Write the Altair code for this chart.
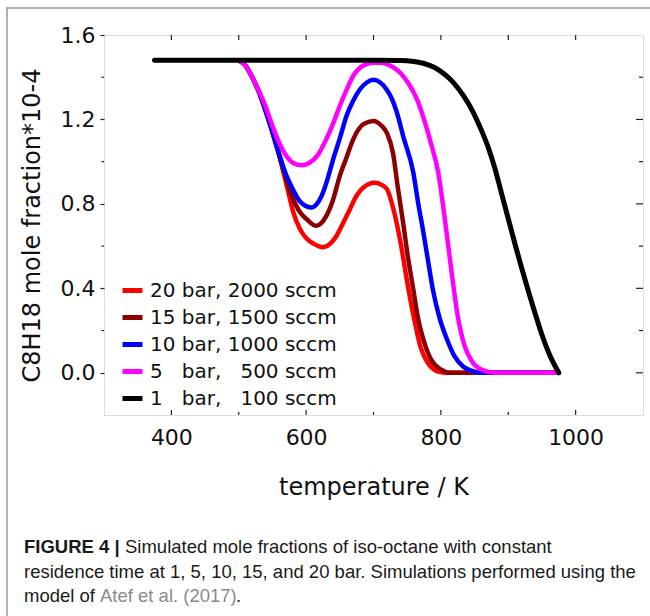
import altair as alt
import pandas as pd

# ---------------- data ----------------
series_names = [
    "20 bar, 2000 sccm",
    "15 bar, 1500 sccm",
    "10 bar, 1000 sccm",
    "5\u00a0\u00a0\u00a0bar,\u00a0\u00a0\u00a0500 sccm",
    "1\u00a0\u00a0\u00a0bar,\u00a0\u00a0\u00a0100 sccm",
]
series_colors = ["#ff0000", "#8b0000", "#0000ff", "#ff00ff", "#000000"]

red_T = [500, 510, 520, 530, 540, 550, 560, 571, 581, 591, 601, 611, 625, 637, 645, 655, 665, 675, 685, 702, 712, 720, 730, 740, 750, 760, 770, 780, 790, 800, 815, 975]
red_v = [1.48, 1.455, 1.40, 1.33, 1.24, 1.14, 1.03, 0.89, 0.76, 0.68, 0.635, 0.612, 0.595, 0.615, 0.648, 0.71, 0.775, 0.84, 0.878, 0.90, 0.89, 0.87, 0.77, 0.62, 0.43, 0.26, 0.12, 0.05, 0.015, 0.003, 0.0, 0.0]

dred_T = [500, 510, 520, 530, 540, 550, 560, 570, 581, 591, 601, 615, 630, 640, 650, 660, 670, 685, 700, 712, 720, 729, 736, 744, 751, 759, 766, 774, 785, 799, 815, 975]
dred_v = [1.48, 1.455, 1.40, 1.33, 1.24, 1.14, 1.03, 0.92, 0.822, 0.76, 0.727, 0.696, 0.743, 0.82, 0.933, 1.02, 1.107, 1.178, 1.193, 1.17, 1.135, 1.04, 0.88, 0.71, 0.55, 0.396, 0.26, 0.158, 0.065, 0.017, 0.0, 0.0]

blue_T = [500, 510, 520, 530, 540, 550, 560, 570, 581, 590, 598, 608, 616, 623, 632, 640, 650, 660, 670, 680, 690, 700, 710, 720, 727, 734, 745, 759, 766, 774, 781, 788, 798, 809, 820, 833, 845, 860, 975]
blue_v = [1.48, 1.455, 1.40, 1.33, 1.24, 1.14, 1.035, 0.94, 0.865, 0.815, 0.792, 0.783, 0.80, 0.838, 0.92, 1.01, 1.11, 1.217, 1.29, 1.343, 1.375, 1.388, 1.375, 1.34, 1.30, 1.24, 1.11, 0.95, 0.81, 0.666, 0.53, 0.396, 0.26, 0.159, 0.08, 0.03, 0.01, 0.0, 0.0]

mag_T = [500, 510, 520, 530, 540, 550, 560, 570, 580, 593, 605, 617, 630, 640, 650, 660, 670, 680, 690, 700, 710, 720, 730, 740, 752, 764, 775, 785, 796, 805, 815, 825, 835, 845, 860, 880, 975]
mag_v = [1.48, 1.455, 1.40, 1.335, 1.26, 1.17, 1.09, 1.03, 0.995, 0.983, 0.995, 1.03, 1.107, 1.18, 1.264, 1.34, 1.407, 1.445, 1.462, 1.468, 1.468, 1.462, 1.445, 1.42, 1.37, 1.30, 1.20, 1.09, 0.95, 0.75, 0.50, 0.27, 0.13, 0.06, 0.015, 0.0, 0.0]

black_T = [375, 500, 600, 700, 740, 760, 775, 790, 805, 818, 834, 848, 860, 870, 880, 890, 900, 910, 920, 930, 940, 950, 960, 975]
black_v = [1.48, 1.48, 1.48, 1.48, 1.479, 1.474, 1.465, 1.447, 1.415, 1.377, 1.31, 1.234, 1.15, 1.07, 0.97, 0.85, 0.73, 0.61, 0.495, 0.385, 0.28, 0.18, 0.095, 0.0]

x_major_ticks = [400, 600, 800, 1000]
x_minor_ticks = [500, 700, 900]
y_major_ticks = [0.0, 0.4, 0.8, 1.2, 1.6]
y_minor_ticks = [0.2, 0.6, 1.0, 1.4]

x_title = "temperature / K"
y_title = "C8H18 mole fraction*10-4"
caption_bold = "FIGURE 4 |"
caption_line1 = "Simulated mole fractions of iso-octane with constant"
caption_line2 = "residence time at 1, 5, 10, 15, and 20 bar. Simulations performed using the"
caption_line3a = "model of"
caption_ref = "Atef et al. (2017)"
caption_end = "."

# ---------------- build table ----------------
rows = []
for name, Ts, vs in zip(series_names,
                        [red_T, dred_T, blue_T, mag_T, black_T],
                        [red_v, dred_v, blue_v, mag_v, black_v]):
    for t, v in zip(Ts, vs):
        rows.append({"series": name, "T": t, "v": v})
df = pd.DataFrame(rows)

W, H = 539, 380
FONT = "DejaVu Sans"
CAP_FONT = "Liberation Sans"
CAP_SIZE = 18.5

xscale = alt.Scale(domain=[300, 1100], nice=False, zero=False)
yscale = alt.Scale(domain=[-0.2, 1.6], nice=False, zero=False)
cscale = alt.Scale(domain=series_names, range=series_colors)

xaxis = alt.Axis(values=x_major_ticks, format="d", ticks=False, domain=False, grid=False,
                 labelFont=FONT, labelFontSize=22, labelColor="#111", labelPadding=12,
                 title=x_title, titleFont=FONT, titleFontSize=24, titleFontWeight="normal",
                 titleColor="#111", titlePadding=27)
yaxis = alt.Axis(values=y_major_ticks, format=".1f", tickSize=4, tickColor="#222", tickWidth=1.2,
                 domain=False, grid=False,
                 labelFont=FONT, labelFontSize=22, labelColor="#111", labelPadding=5,
                 title=y_title, titleFont=FONT, titleFontSize=24, titleFontWeight="normal",
                 titleColor="#111", titlePadding=16)

legend = alt.Legend(title=None, orient="none", legendX=16, legendY=243,
                    symbolType="stroke", symbolStrokeWidth=5, symbolSize=400,
                    labelFont=FONT, labelFontSize=20, labelColor="#111", labelOffset=5,
                    rowPadding=4, padding=0, labelLimit=400)

layers = []
for i, name in enumerate(series_names):
    sub = df[df["series"] == name]
    layers.append(
        alt.Chart(sub).mark_line(strokeWidth=5 if i == 4 else 4.5, interpolate="monotone",
                                 strokeCap="round", strokeJoin="round").encode(
            x=alt.X("T:Q", scale=xscale, axis=xaxis),
            y=alt.Y("v:Q", scale=yscale, axis=yaxis),
            color=alt.Color("series:N", scale=cscale, legend=legend, sort=series_names),
        )
    )

tick_color = "#222"

def xticks(values, y0, y1):
    return alt.Chart(pd.DataFrame({"T": values})).mark_rule(color=tick_color, strokeWidth=1.2).encode(
        x=alt.X("T:Q", scale=xscale, axis=xaxis), y=alt.value(y0), y2=alt.value(y1))

def yticks(values, x0, x1):
    return alt.Chart(pd.DataFrame({"v": values})).mark_rule(color=tick_color, strokeWidth=1.2).encode(
        y=alt.Y("v:Q", scale=yscale, axis=yaxis), x=alt.value(x0), x2=alt.value(x1))

tick_layers = [
    xticks(x_major_ticks, H, H - 5), xticks(x_minor_ticks, H, H - 3),
    xticks(x_major_ticks + x_minor_ticks, 0, 5),
    yticks(y_major_ticks[:-1], W, W - 7), yticks(y_minor_ticks, W, W - 4),
    yticks(y_minor_ticks, 0, -2.5),
]

def text_layer(txt, x, y, weight="normal", color="#1a1a1a"):
    return alt.Chart(pd.DataFrame({"t": [txt]})).mark_text(
        align="left", baseline="middle", font=CAP_FONT, fontSize=CAP_SIZE, fontWeight=weight,
        color=color).encode(text="t:N", x=alt.value(x), y=alt.value(y))

cap_x = -80
caption_layers = [
    text_layer(caption_bold, cap_x, 512, weight="bold"),
    text_layer(caption_line1, cap_x + 101, 512),
    text_layer(caption_line2, cap_x, 537),
    text_layer(caption_line3a, cap_x, 561),
    text_layer(caption_ref, cap_x + 76, 561, color="#8a8a8a"),
    text_layer(caption_end, cap_x + 212, 561),
]

# figure frame (top and left edges visible)
frame_top = alt.Chart(pd.DataFrame({"a": [0]})).mark_rect(color="#9a9a9a").encode(
    x=alt.value(-97.75), x2=alt.value(W + 30), y=alt.value(-27.75), y2=alt.value(-26.25))
frame_left = alt.Chart(pd.DataFrame({"a": [0]})).mark_rect(color="#9a9a9a").encode(
    x=alt.value(-97.75), x2=alt.value(-96.25), y=alt.value(-27.75), y2=alt.value(H + 230))

chart = alt.layer(frame_top, frame_left, *layers, *tick_layers, *caption_layers).properties(
    width=W, height=H,
    autosize=alt.AutoSizeParams(type="none"),
    padding={"left": 104, "top": 35, "right": 7, "bottom": 201},
).configure_view(stroke="#222", strokeWidth=1.3).configure(background="white")

chart.save("out.html", embed_options={"renderer": "svg", "actions": False})
